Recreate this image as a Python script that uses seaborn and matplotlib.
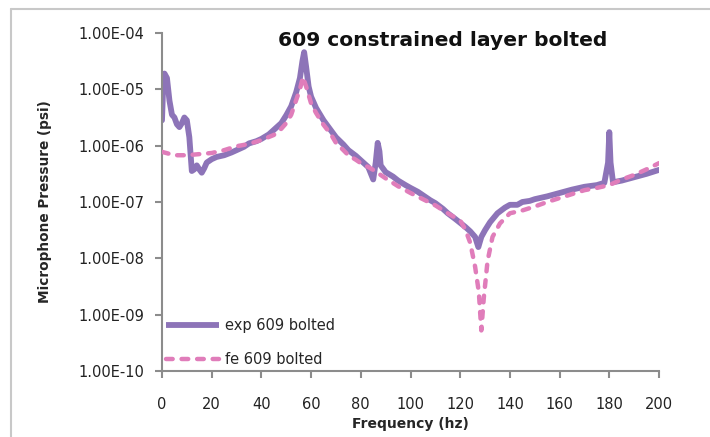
import numpy as np
import pandas as pd
import matplotlib
matplotlib.use("Agg")
import matplotlib.pyplot as plt
from matplotlib.lines import Line2D
import seaborn as sns

# Measured microphone response (log10 of pressure, psi)
exp_freq = [0, 0.5, 1, 2, 3, 4, 5, 6, 7, 8, 9, 10, 11, 12, 13, 14, 15, 16, 17, 18,
            20, 22, 25, 28, 30, 33, 35, 38, 40, 43, 45, 48, 50, 52, 54, 55.5, 56.5,
            57.2, 58, 59, 60, 62, 65, 68, 70, 73, 75, 78, 80, 83, 85, 86, 86.8, 87.5,
            88, 90, 93, 95, 98, 100, 103, 105, 108, 110, 113, 115, 118, 120, 122, 124,
            126, 127.3, 128.5, 130, 132, 135, 138, 140, 143, 145, 148, 150, 155, 160,
            165, 170, 175, 178, 179.5, 180, 180.5, 181.5, 185, 190, 195, 200]
exp_log = [-5.55, -4.9, -4.72, -4.8, -5.2, -5.45, -5.5, -5.62, -5.67, -5.6, -5.5,
           -5.55, -5.85, -6.45, -6.42, -6.35, -6.42, -6.48, -6.4, -6.3, -6.24, -6.2,
           -6.17, -6.12, -6.08, -6.02, -5.96, -5.92, -5.88, -5.8, -5.72, -5.6, -5.46,
           -5.3, -5.05, -4.8, -4.5, -4.34, -4.6, -4.95, -5.13, -5.33, -5.55, -5.73,
           -5.85, -5.98, -6.08, -6.18, -6.26, -6.38, -6.6, -6.3, -5.95, -6.1, -6.35,
           -6.47, -6.55, -6.62, -6.7, -6.75, -6.82, -6.88, -6.97, -7.02, -7.12, -7.2,
           -7.3, -7.37, -7.44, -7.52, -7.62, -7.8, -7.62, -7.5, -7.36, -7.2, -7.1,
           -7.05, -7.05, -7.0, -6.98, -6.95, -6.9, -6.84, -6.78, -6.73, -6.7, -6.66,
           -6.3, -5.76, -6.3, -6.65, -6.62, -6.56, -6.5, -6.43]

# Finite element prediction (log10 of pressure, psi)
fe_freq = [0, 5, 10, 15, 20, 25, 30, 35, 40, 45, 48, 50, 52, 54, 55.5, 56.7, 58, 59,
           60, 62, 65, 68, 70, 73, 75, 78, 80, 83, 85, 88, 90, 95, 100, 105, 110, 115,
           120, 122, 124, 126, 127.5, 128.5, 129.5, 131, 133, 136, 140, 145, 150, 155,
           160, 165, 170, 175, 180, 185, 190, 195, 200]
fe_log = [-6.11, -6.17, -6.17, -6.15, -6.13, -6.08, -6.01, -5.97, -5.9, -5.81, -5.7,
          -5.6, -5.45, -5.19, -5.0, -4.78, -4.95, -5.1, -5.25, -5.42, -5.63, -5.8,
          -5.95, -6.08, -6.17, -6.25, -6.31, -6.38, -6.43, -6.52, -6.58, -6.72, -6.84,
          -6.95, -7.06, -7.2, -7.33, -7.48, -7.72, -8.15, -8.6, -9.28, -8.7, -8.05,
          -7.62, -7.38, -7.2, -7.15, -7.08, -7.0, -6.93, -6.86, -6.79, -6.75, -6.7,
          -6.6, -6.52, -6.42, -6.31]

series_names = ["exp 609 bolted", "fe 609 bolted"]
title_text = "609 constrained layer bolted"
x_ticks = list(range(0, 201, 20))
y_ticks = [1e-10, 1e-9, 1e-8, 1e-7, 1e-6, 1e-5, 1e-4]
y_tick_labels = ["1.00E-10", "1.00E-09", "1.00E-08", "1.00E-07",
                 "1.00E-06", "1.00E-05", "1.00E-04"]

df = pd.concat([
    pd.DataFrame({"freq": exp_freq, "p": 10.0 ** np.array(exp_log), "series": series_names[0]}),
    pd.DataFrame({"freq": fe_freq, "p": 10.0 ** np.array(fe_log), "series": series_names[1]}),
], ignore_index=True)

sns.set_style("white")
plt.rcParams["font.family"] = ["DejaVu Sans"]

purple = "#8D74B8"
pink = "#E07DBA"
axis_grey = "#8C8C8C"
fe_dash = (1.5, 2.0)

fig = plt.figure(figsize=(7.1, 4.37), dpi=100)
ax = fig.add_axes([162 / 710, 1 - 371 / 437, (659 - 162) / 710, (371 - 33) / 437])

sns.lineplot(data=df, x="freq", y="p", hue="series", style="series",
             palette={series_names[0]: purple, series_names[1]: pink},
             dashes={series_names[0]: "", series_names[1]: fe_dash},
             sort=False, estimator=None, ax=ax, legend=False)
ax.lines[0].set_linewidth(4.2)
ax.lines[1].set_linewidth(3.2)
ax.lines[0].set_zorder(2)
ax.lines[1].set_zorder(3)
for ln in ax.lines:
    ln.set_solid_capstyle("round")
    ln.set_dash_capstyle("round")
    ln.set_solid_joinstyle("round")
    ln.set_dash_joinstyle("round")

ax.set_yscale("log")
ax.set_xlim(0, 200)
ax.set_ylim(1e-10, 1e-4)
ax.set_xticks(x_ticks)
ax.set_xticklabels([str(t) for t in x_ticks])
ax.set_yticks(y_ticks)
ax.set_yticklabels(y_tick_labels)
ax.yaxis.set_minor_locator(matplotlib.ticker.NullLocator())

for side in ["top", "right"]:
    ax.spines[side].set_visible(False)
for side in ["left", "bottom"]:
    ax.spines[side].set_color(axis_grey)
    ax.spines[side].set_linewidth(1.5)
ax.tick_params(axis="both", which="major", direction="out", length=5, width=1.5,
               color=axis_grey, labelsize=10.5, labelcolor="#222222",
               bottom=True, left=True)
ax.tick_params(axis="y", pad=8)
ax.tick_params(axis="x", pad=13.5)

ax.set_xlabel("Frequency (hz)", fontsize=10, fontweight="bold", labelpad=4)
ax.set_ylabel("Microphone Pressure (psi)", fontsize=9.8, fontweight="bold", labelpad=19)

fig.text(443 / 710, 1 - 40 / 437, title_text, fontsize=14.6, fontweight="bold",
         ha="center", va="center", color="#111111")

handles = [Line2D([], [], color=purple, lw=4.2, solid_capstyle="butt"),
           Line2D([], [], color=pink, lw=3.2, ls=(0, fe_dash), dash_capstyle="round")]
ax.legend(handles, series_names, loc="lower left", bbox_to_anchor=(0.0, 0.0),
          frameon=False, fontsize=10.5, handlelength=3.6, handletextpad=0.45,
          labelspacing=1.25, borderaxespad=0.0, borderpad=0.3)

# Chart-area border (top and left edges)
fig.add_artist(Line2D([11 / 710, 1.0], [1 - 9 / 437, 1 - 9 / 437], color="#C8C8C8", lw=1.5))
fig.add_artist(Line2D([11 / 710, 11 / 710], [0.0, 1 - 9 / 437], color="#C8C8C8", lw=1.5))

fig.savefig("out.png", dpi=100)
